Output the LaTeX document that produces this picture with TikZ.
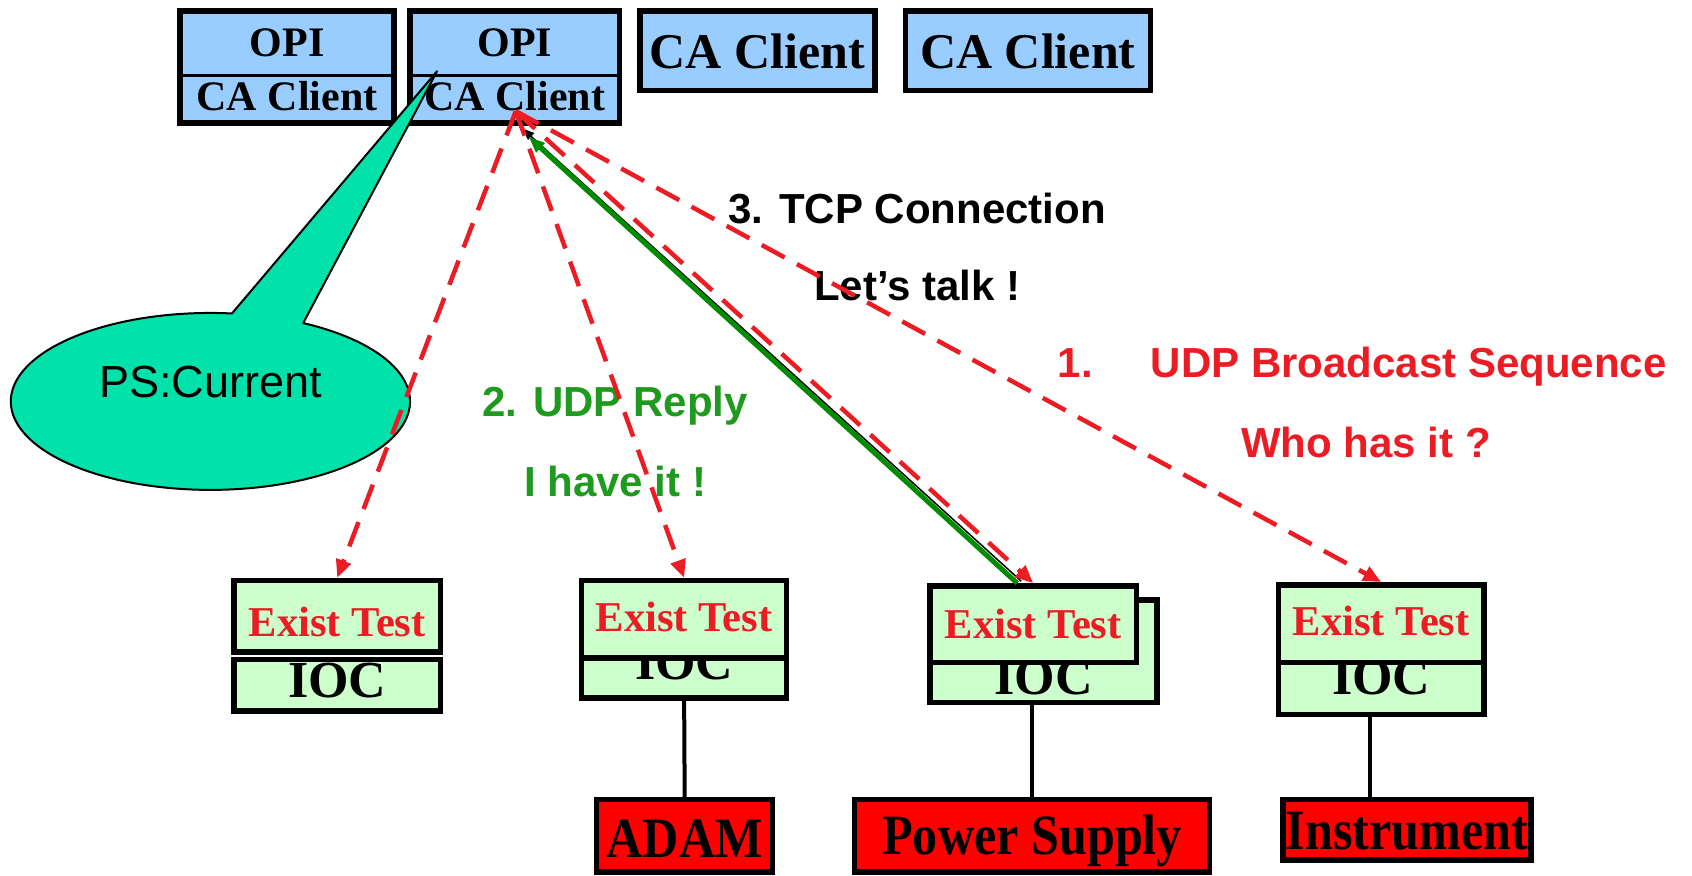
\documentclass[tikz,border=0pt]{standalone}
\usepackage{fontspec}
\usepackage{graphicx}
\setmainfont{Liberation Serif}
\setsansfont{Liberation Sans}
\usetikzlibrary{fit,arrows.meta,calc}

\definecolor{clientblue}{HTML}{99CCFF}
\definecolor{iocgreen}{HTML}{CCFFCC}
\definecolor{bubble}{HTML}{00E2AA}
\definecolor{alarmred}{HTML}{FF0000}
\definecolor{msgred}{HTML}{EC1C24}
\definecolor{msggreen}{HTML}{1E9B1E}
\definecolor{linkgreen}{HTML}{008C00}

\newcommand\setfs[1]{\fontsize{#1}{#1}\selectfont}
\newcommand\narrow[1]{\scalebox{0.88}[1]{#1}}

\begin{document}
\begin{tikzpicture}[x=1.0791pt,y=-1.0791pt,
  frame/.style={draw, line width=5.5pt, inner sep=0pt},
  client/.style={frame, fill=clientblue},
  iocbox/.style={frame, fill=iocgreen},
  device/.style={frame, fill=alarmred},
  smalltxt/.style={inner sep=0pt, font=\setfs{42}\bfseries},
  bigtxt/.style={inner sep=0pt, font=\setfs{50}\bfseries},
  iocname/.style={inner sep=0pt, font=\setfs{52}\bfseries},
  testtxt/.style={inner sep=0pt, text=msgred, font=\setfs{42.5}\bfseries},
  devtxt/.style={inner sep=0pt, font=\setfs{57}\bfseries},
  msg/.style={inner sep=0pt, font=\sffamily\bfseries\setfs{42}},
  wire/.style={line width=4pt},
  bcast/.style={draw=msgred, line width=4.5pt, dash pattern=on 26pt off 14pt,
    -{Triangle[length=18pt,width=15pt]}},
]
\fill[white] (0,0) rectangle (1568,811);
\useasboundingbox (0,0) rectangle (1568,811);

% --- field devices
\node[device, fit={(553,741) (716,808)}] (adam) {};
\node[device, fit={(792,741) (1121,808)}] (ps) {};
\node[device, fit={(1189,741) (1419,797)}] (inst) {};
\node[devtxt] (adamtxt) at (634.5,777) {\narrow{ADAM}};
\node[devtxt] (pstxt) at (956.5,779) {\narrow{Power Supply}};
\node[devtxt] (insttxt) at (1304,770) {\narrow{Instrument}};

% --- IOC boxes (back) with their names
\node[iocbox, fit={(217,611) (408,659)}] (ioc1) {};
\node[iocname] (ioc1txt) at (312.5,631) {IOC};
\node[iocbox, fit={(539,575) (729,647)}] (ioc2) {};
\node[iocname] (ioc2txt) at (634,614) {IOC};
\node[iocbox, fit={(862,556) (1072,651)}] (ioc3) {};
\node[iocname] (ioc3txt) at (967,628) {IOC};
\node[iocbox, fit={(1185,588) (1375,662)}] (ioc4) {};
\node[iocname] (ioc4txt) at (1280,628) {IOC};

\draw[wire] (ioc2.south) -- (adam.north);
\draw[wire] (ps.north) -- (ps.north |- ioc3.south);
\draw[wire] ([xshift=-10.8pt]ioc4.south) -- ([xshift=-10.8pt]ioc4.south |- inst.north);

% --- Exist Test boxes (front)
\node[iocbox, fit={(217,538) (408,604)}] (ioc1ex) {};
\node[testtxt] (ioc1extxt) at (312.5,576) {Exist Test};
\node[iocbox, fit={(539,538) (729,610)}] (ioc2ex) {};
\node[testtxt] (ioc2extxt) at (634,572) {Exist Test};
\node[iocbox, fit={(862,543) (1053,614)}] (ioc3ex) {};
\node[testtxt] (ioc3extxt) at (957.5,578) {Exist Test};
\node[iocbox, fit={(1185,542) (1375,614)}] (ioc4ex) {};
\node[testtxt] (ioc4extxt) at (1280,575) {Exist Test};

% --- clients
\node[client, fit={(167,10) (365,114)}] (opi1) {};
\draw[line width=3pt] (opi1.west |- 0,70) -- (opi1.east |- 0,70);
\node[smalltxt] (opi1a) at (266,40) {OPI};
\node[smalltxt] (opi1b) at (266,89) {CA Client};
\node[client, fit={(380,10) (574,114)}] (opi2) {};
\draw[line width=3pt] (opi2.west |- 0,70) -- (opi2.east |- 0,70);
\node[smalltxt] (opi2a) at (477,40) {OPI};
\node[smalltxt] (opi2b) at (477,89) {CA Client};
\node[client, fit={(593,10) (811,84)}] (cl3) {};
\node[bigtxt] (cl3txt) at (702,48) {CA Client};
\node[client, fit={(839,10) (1066,84)}] (cl4) {};
\node[bigtxt] (cl4txt) at (952.5,48) {CA Client};

% --- callout naming the channel
\coordinate (tip) at (405,66);
\draw[line width=2pt, fill=bubble, line join=round]
  plot[domain=-62.3:276.2, samples=140] ({195+185*cos(\x)},{372+82*sin(\x)})
  -- (tip) -- cycle;
\node[inner sep=0pt, font=\sffamily\setfs{45}] (pv) at (195,354) {PS:Current};

% --- message labels
\node[msg] (tcp1) at (850,193) {3. TCP Connection};
\node[msg] (tcp2) at (850,265) {Let’s talk !};
\node[msg, text=msgred, anchor=west] (udp1) at (980,340) {1.\hspace{58pt}UDP Broadcast Sequence};
\node[msg, text=msgred] (udp2) at (1266,410) {Who has it ?};
\node[msg, text=msggreen] (rep1) at (570,376) {2. UDP Reply};
\node[msg, text=msggreen] (rep2) at (570,446) {I have it !};

% --- connections
\coordinate (hub) at (478,103);
\coordinate (replyin) at (490,127);
\coordinate (replyedge) at (484,119);
\draw[line width=1.5pt, -{Triangle[length=12pt,width=9pt]}]
  ([xshift=-12pt,yshift=2pt]ioc3ex.north) -- (replyedge);
\draw[linkgreen, line width=5pt, -{Triangle[length=16pt,width=12pt]}]
  ([xshift=-16pt]ioc3ex.north) -- (replyin);

\draw[bcast] (hub) -- (ioc1ex.north);
\draw[bcast] (hub) -- (ioc2ex.north);
\draw[bcast] (hub) -- (ioc3ex.north);
\draw[bcast] (hub) -- (ioc4ex.north);
\end{tikzpicture}
\end{document}
